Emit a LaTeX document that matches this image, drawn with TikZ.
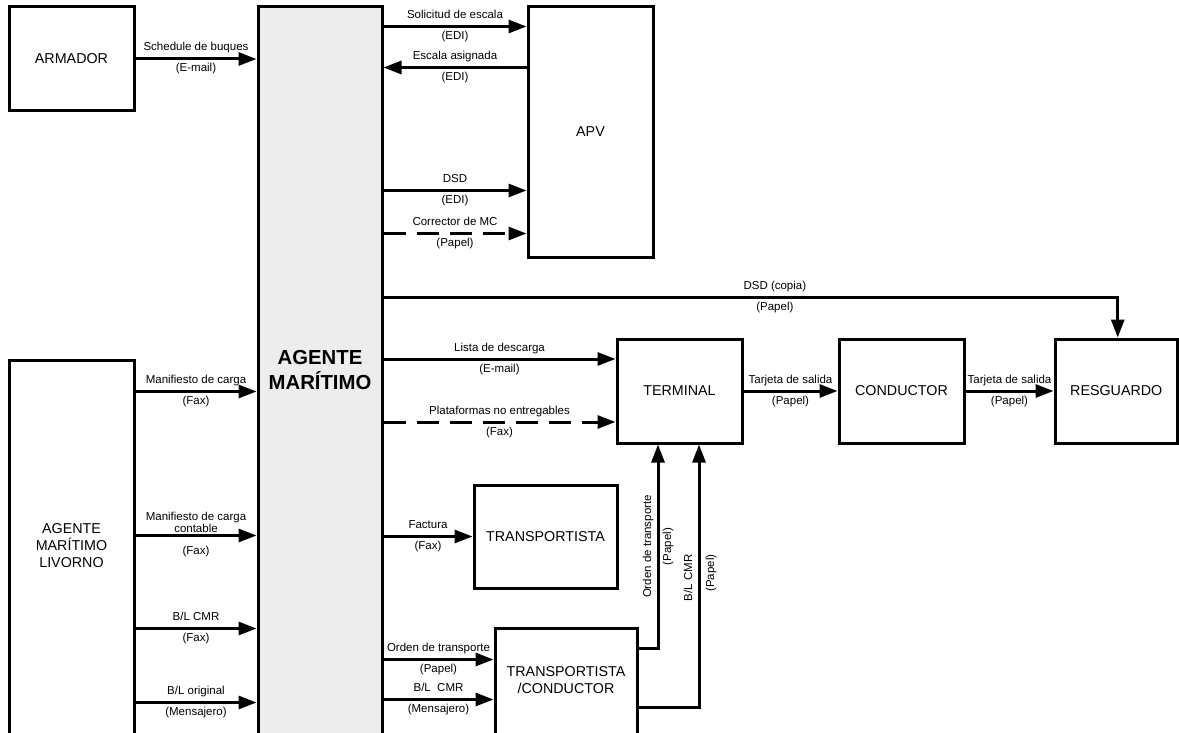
\documentclass[tikz,border=0pt]{standalone}
\usepackage{fontspec}
\setmainfont{Liberation Sans}
\usetikzlibrary{arrows.meta,calc}
\definecolor{agfill}{HTML}{EDEDED}
\begin{document}
\begin{tikzpicture}[x=1pt,y=-1pt,
  box/.style={draw, line width=3pt, inner sep=0pt, align=center,
    font=\fontsize{14.3}{17}\selectfont},
  boxtxt/.style={inner sep=0pt, align=center, font=\fontsize{14.3}{17}\selectfont},
  arr/.style={line width=3pt, -{Triangle[length=18pt,width=13pt]}},
  dsh/.style={arr, dash pattern=on 22pt off 11pt},
  lbl/.style={font=\fontsize{11.5}{12}\selectfont, inner sep=0pt,
    text height=8.5pt, text depth=2.5pt},
  up/.style={lbl, midway, yshift=11pt},
  dn/.style={lbl, midway, yshift=-10pt},
  vlbl/.style={lbl, midway, rotate=90},
]
\useasboundingbox (0,0) rectangle (1179,733);

% ---- boxes ----
\node[box, minimum width=125pt, minimum height=104pt] (armador) at (71.5,59) {ARMADOR};
\node[box, fill=agfill, minimum width=124pt, minimum height=738pt] (agente) at (320,376) {};
\node[inner sep=0pt, align=center, font=\bfseries\fontsize{20.3}{25}\selectfont]
  (agentetxt) at (320,370) {AGENTE\\MARÍTIMO};
\node[box, minimum width=125pt, minimum height=250pt] (apv) at (590.5,132) {APV};
\node[box, minimum width=125pt, minimum height=385pt] (livorno) at (71.5,552.5) {};
\node[boxtxt] (livornotxt) at (71.5,546) {AGENTE\\MARÍTIMO\\LIVORNO};
\node[box, minimum width=125pt, minimum height=104pt] (terminal) at (679.5,391) {TERMINAL};
\node[box, minimum width=125pt, minimum height=104pt] (conductor) at (901.5,391) {CONDUCTOR};
\node[box, minimum width=122.5pt, minimum height=104pt] (resguardo) at (1116.25,391) {RESGUARDO};
\node[box, minimum width=143pt, minimum height=103pt] (transp) at (545.5,536.5) {TRANSPORTISTA};
\node[box, minimum width=142pt, minimum height=117pt] (tc) at (566,686.5) {};
\node[boxtxt] (tctxt) at (566,680) {TRANSPORTISTA\\/CONDUCTOR};

% ---- armador ----
\draw[arr] (armador.east) -- (armador.east -| agente.west)
  node[up]{Schedule de buques} node[dn]{(E-mail)};

% ---- APV ----
\coordinate (ysol) at ($(apv.north west)+(0,21)$);
\coordinate (yesc) at ($(apv.north west)+(0,62)$);
\coordinate (ydsd) at ($(apv.north west)+(0,185)$);
\coordinate (ycor) at ($(apv.north west)+(0,228)$);
\draw[arr] (agente.east |- ysol) -- (ysol)
  node[up]{Solicitud de escala} node[dn]{(EDI)};
\draw[arr] (yesc) -- (agente.east |- yesc)
  node[up]{Escala asignada} node[dn]{(EDI)};
\draw[arr] (agente.east |- ydsd) -- (ydsd)
  node[up]{DSD} node[dn]{(EDI)};
\draw[dsh] (agente.east |- ycor) -- (ycor)
  node[up]{Corrector de MC} node[dn]{(Papel)};

% ---- DSD copy to resguardo ----
\coordinate (dsdbend) at ($(resguardo.north)+(1.5,-40)$);
\coordinate (dsdend) at ($(resguardo.north)+(1.5,0)$);
\draw[arr] (agente.east |- dsdbend) -- (dsdbend)
  node[up, pos=0.533]{DSD (copia)} node[dn, pos=0.533]{(Papel)} -- (dsdend);

% ---- terminal ----
\coordinate (ylis) at ($(terminal.west)+(0,-32)$);
\coordinate (ypla) at ($(terminal.west)+(0,31)$);
\draw[arr] (agente.east |- ylis) -- (ylis)
  node[up]{Lista de descarga} node[dn]{(E-mail)};
\draw[dsh] (agente.east |- ypla) -- (ypla)
  node[up]{Plataformas no entregables} node[dn]{(Fax)};
\draw[arr] (terminal.east) -- (conductor.west)
  node[up]{Tarjeta de salida} node[dn]{(Papel)};
\draw[arr] (conductor.east) -- (resguardo.west)
  node[up]{Tarjeta de salida} node[dn]{(Papel)};

% ---- transportista ----
\draw[arr] (agente.east |- transp.west) -- (transp.west)
  node[up]{Factura} node[dn]{(Fax)};

% ---- transportista / conductor ----
\coordinate (yord) at ($(tc.north west)+(0,33)$);
\coordinate (ybl) at ($(tc.north west)+(0,73)$);
\draw[arr] (agente.east |- yord) -- (yord)
  node[up]{Orden de transporte} node[dn]{(Papel)};
\draw[arr] (agente.east |- ybl) -- (ybl)
  node[up]{B/L~~CMR} node[dn]{(Mensajero)};

\coordinate (ovx) at ($(terminal.south)+(-21.5,0)$);
\coordinate (bvx) at ($(terminal.south)+(19.5,0)$);
\coordinate (ovs) at ($(tc.north east)+(0,22)$);
\coordinate (bvs) at ($(tc.north east)+(0,81)$);
\draw[arr] (ovs) -- (ovs -| ovx) -- (ovx)
  node[xshift=-10pt, vlbl]{Orden de transporte}
  node[xshift=10pt, vlbl]{(Papel)};
\draw[arr] (bvs) -- (bvs -| bvx) -- (bvx)
  node[xshift=-10pt, yshift=-2pt, vlbl]{B/L CMR}
  node[xshift=12pt, yshift=3pt, vlbl]{(Papel)};

% ---- agente maritimo livorno ----
\coordinate (ym1) at ($(livorno.north east)+(0,33)$);
\coordinate (ym2) at ($(livorno.north east)+(0,177)$);
\coordinate (ym3) at ($(livorno.north east)+(0,270)$);
\coordinate (ym4) at ($(livorno.north east)+(0,344)$);
\draw[arr] (ym1) -- (ym1 -| agente.west)
  node[up]{Manifiesto de carga} node[dn]{(Fax)};
\draw[arr] (ym2) -- (ym2 -| agente.west)
  node[midway, yshift=13pt, inner sep=0pt, align=center,
    font=\fontsize{11.5}{12}\selectfont]{Manifiesto de carga\\contable}
  node[dn, yshift=-6pt]{(Fax)};
\draw[arr] (ym3) -- (ym3 -| agente.west)
  node[up]{B/L CMR} node[dn]{(Fax)};
\draw[arr] (ym4) -- (ym4 -| agente.west)
  node[up]{B/L original} node[dn]{(Mensajero)};
\end{tikzpicture}
\end{document}
